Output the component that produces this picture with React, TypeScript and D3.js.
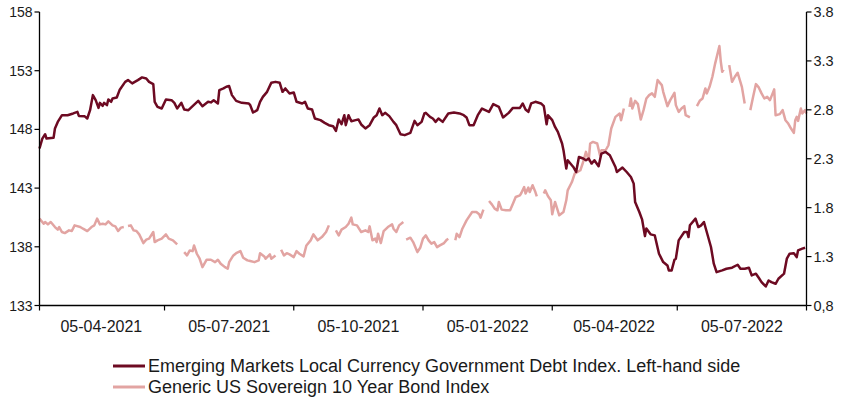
import React from "react";
import * as d3 from "d3";

// Emerging Markets Local Currency Government Debt Index (left axis)
const emSeries: [string, number][] = [
  ["2021-02-20", 146.37], ["2021-02-22", 147.22], ["2021-02-24", 147.59], ["2021-02-25", 147.22],
  ["2021-03-02", 147.28], ["2021-03-03", 148.08], ["2021-03-05", 148.64], ["2021-03-08", 149.21],
  ["2021-03-12", 149.21], ["2021-03-16", 149.36], ["2021-03-19", 149.49], ["2021-03-20", 149.15],
  ["2021-03-24", 149.13], ["2021-03-26", 148.93], ["2021-03-28", 149.64], ["2021-03-30", 150.92],
  ["2021-04-01", 150.49], ["2021-04-03", 149.83], ["2021-04-04", 150.26], ["2021-04-06", 150.01],
  ["2021-04-07", 150.26], ["2021-04-09", 150.07], ["2021-04-10", 150.55], ["2021-04-12", 150.35],
  ["2021-04-13", 150.64], ["2021-04-16", 150.72], ["2021-04-18", 151.35], ["2021-04-22", 152.05],
  ["2021-04-24", 152.2], ["2021-04-27", 151.92], ["2021-05-01", 152.2], ["2021-05-04", 152.43],
  ["2021-05-07", 152.34], ["2021-05-09", 152.05], ["2021-05-12", 151.86], ["2021-05-13", 150.35],
  ["2021-05-15", 149.92], ["2021-05-18", 149.78], ["2021-05-21", 150.55], ["2021-05-25", 150.49],
  ["2021-05-27", 150.26], ["2021-05-29", 149.78], ["2021-06-01", 150.26], ["2021-06-03", 149.7],
  ["2021-06-06", 149.64], ["2021-06-09", 149.98], ["2021-06-13", 150.43], ["2021-06-16", 149.98],
  ["2021-06-20", 150.35], ["2021-06-22", 150.3], ["2021-06-24", 150.49], ["2021-06-27", 150.21],
  ["2021-06-28", 151.35], ["2021-07-01", 151.49], ["2021-07-03", 151.63], ["2021-07-05", 151.69],
  ["2021-07-07", 150.92], ["2021-07-10", 150.43], ["2021-07-14", 150.26], ["2021-07-19", 150.21],
  ["2021-07-20", 150.07], ["2021-07-22", 149.44], ["2021-07-25", 149.64], ["2021-07-27", 150.35],
  ["2021-07-29", 150.77], ["2021-08-01", 151.2], ["2021-08-04", 151.97], ["2021-08-07", 152.05],
  ["2021-08-10", 151.97], ["2021-08-12", 151.2], ["2021-08-14", 151.49], ["2021-08-17", 151.06],
  ["2021-08-20", 151.15], ["2021-08-22", 150.35], ["2021-08-26", 150.21], ["2021-08-28", 150.35],
  ["2021-08-30", 149.78], ["2021-09-02", 149.7], ["2021-09-04", 148.93], ["2021-09-08", 148.79],
  ["2021-09-11", 148.56], ["2021-09-14", 148.36], ["2021-09-17", 148.27], ["2021-09-19", 147.87],
  ["2021-09-21", 148.85], ["2021-09-23", 148.44], ["2021-09-25", 149.21], ["2021-09-26", 148.36],
  ["2021-09-28", 149.21], ["2021-09-30", 148.7], ["2021-10-03", 148.79], ["2021-10-05", 148.85],
  ["2021-10-07", 148.42], ["2021-10-10", 148.08], ["2021-10-13", 148.36], ["2021-10-16", 149.02],
  ["2021-10-18", 149.21], ["2021-10-20", 149.78], ["2021-10-22", 149.21], ["2021-10-24", 149.41],
  ["2021-10-27", 149.13], ["2021-10-30", 148.64], ["2021-11-01", 148.36], ["2021-11-04", 147.59],
  ["2021-11-07", 147.51], ["2021-11-11", 147.7], ["2021-11-14", 148.73], ["2021-11-16", 148.36],
  ["2021-11-19", 148.64], ["2021-11-21", 149.36], ["2021-11-22", 149.41], ["2021-11-25", 149.07],
  ["2021-11-27", 148.93], ["2021-11-29", 148.64], ["2021-12-01", 148.93], ["2021-12-04", 148.64],
  ["2021-12-08", 149.36], ["2021-12-12", 149.44], ["2021-12-16", 149.36], ["2021-12-19", 149.21],
  ["2021-12-21", 149.02], ["2021-12-23", 148.36], ["2021-12-26", 148.36], ["2021-12-29", 149.21],
  ["2022-01-01", 149.78], ["2022-01-06", 149.49], ["2022-01-09", 150.15], ["2022-01-13", 149.92],
  ["2022-01-16", 149.02], ["2022-01-20", 149.41], ["2022-01-23", 149.83], ["2022-01-28", 149.83],
  ["2022-01-30", 150.21], ["2022-02-01", 149.7], ["2022-02-03", 149.49], ["2022-02-05", 150.21],
  ["2022-02-08", 150.35], ["2022-02-12", 150.21], ["2022-02-14", 149.98], ["2022-02-16", 148.44],
  ["2022-02-17", 149.21], ["2022-02-20", 148.79], ["2022-02-22", 148.21], ["2022-02-24", 147.79],
  ["2022-02-27", 146.8], ["2022-02-28", 146.23], ["2022-03-02", 144.66], ["2022-03-03", 145.37],
  ["2022-03-07", 144.8], ["2022-03-09", 144.37], ["2022-03-11", 145.65], ["2022-03-14", 145.52],
  ["2022-03-16", 145.37], ["2022-03-18", 145.52], ["2022-03-20", 145.09], ["2022-03-22", 145.37],
  ["2022-03-25", 144.86], ["2022-03-27", 145.94], ["2022-03-30", 146.08], ["2022-04-02", 145.8],
  ["2022-04-06", 144.8], ["2022-04-07", 144.37], ["2022-04-11", 144.75], ["2022-04-14", 144.37],
  ["2022-04-17", 143.95], ["2022-04-19", 143.38], ["2022-04-20", 141.81], ["2022-04-23", 140.96],
  ["2022-04-25", 140.31], ["2022-04-27", 138.91], ["2022-04-28", 139.55], ["2022-05-01", 139.06],
  ["2022-05-04", 138.97], ["2022-05-07", 137.41], ["2022-05-10", 136.7], ["2022-05-13", 136.41],
  ["2022-05-14", 135.99], ["2022-05-16", 135.99], ["2022-05-18", 136.9], ["2022-05-19", 136.99],
  ["2022-05-21", 138.55], ["2022-05-25", 139.26], ["2022-05-27", 139.26], ["2022-05-28", 138.83],
  ["2022-05-29", 139.83], ["2022-06-02", 140.4], ["2022-06-04", 139.68], ["2022-06-06", 139.83],
  ["2022-06-08", 140.11], ["2022-06-10", 139.26], ["2022-06-13", 137.98], ["2022-06-15", 136.56],
  ["2022-06-17", 135.84], ["2022-06-21", 135.99], ["2022-06-24", 136.13], ["2022-06-28", 136.22],
  ["2022-07-02", 136.47], ["2022-07-04", 136.13], ["2022-07-07", 136.13], ["2022-07-10", 136.22],
  ["2022-07-12", 135.56], ["2022-07-15", 135.71], ["2022-07-17", 135.36], ["2022-07-19", 134.99],
  ["2022-07-22", 134.62], ["2022-07-24", 135.13], ["2022-07-26", 134.99], ["2022-07-29", 134.85],
  ["2022-07-31", 135.28], ["2022-08-04", 135.71], ["2022-08-06", 136.99], ["2022-08-08", 137.41],
  ["2022-08-11", 137.46], ["2022-08-13", 137.12], ["2022-08-14", 137.69], ["2022-08-17", 137.84],
  ["2022-08-19", 137.92],
];

// Generic US Sovereign 10 Year Bond Index (right axis); null = gap in the line
const usSeries: [string, number | null][] = [
  ["2021-02-20", 1.688], ["2021-02-23", 1.636], ["2021-02-24", 1.653], ["2021-02-26", 1.629],
  ["2021-02-28", 1.653], ["2021-03-03", 1.602], ["2021-03-05", 1.575], ["2021-03-06", 1.602],
  ["2021-03-08", 1.551], ["2021-03-10", 1.54], ["2021-03-13", 1.568], ["2021-03-15", 1.561],
  ["2021-03-17", 1.619], ["2021-03-21", 1.602], ["2021-03-23", 1.585], ["2021-03-26", 1.561],
  ["2021-03-29", 1.602], ["2021-03-31", 1.619], ["2021-04-02", 1.688], ["2021-04-04", 1.629],
  ["2021-04-06", 1.636], ["2021-04-08", 1.629], ["2021-04-10", 1.66], ["2021-04-13", 1.619],
  ["2021-04-15", 1.609], ["2021-04-17", 1.561], ["2021-04-19", 1.596], ["2021-04-21", 1.602],
  ["2021-04-23", null],
  ["2021-04-24", 1.612], ["2021-04-26", 1.619], ["2021-04-28", 1.568], ["2021-04-30", 1.561],
  ["2021-05-02", 1.527], ["2021-05-05", 1.438], ["2021-05-07", 1.473], ["2021-05-09", 1.483],
  ["2021-05-12", 1.551], ["2021-05-13", 1.448], ["2021-05-15", 1.466], ["2021-05-18", 1.483],
  ["2021-05-21", 1.527], ["2021-05-23", 1.483], ["2021-05-26", 1.466], ["2021-05-29", 1.425],
  ["2021-06-01", null],
  ["2021-06-03", 1.346], ["2021-06-05", 1.312], ["2021-06-07", 1.363], ["2021-06-09", 1.356],
  ["2021-06-10", 1.414], ["2021-06-12", 1.329], ["2021-06-14", 1.278], ["2021-06-16", 1.192],
  ["2021-06-19", 1.268], ["2021-06-22", 1.268], ["2021-06-25", 1.243], ["2021-06-27", 1.268],
  ["2021-06-29", 1.227], ["2021-07-02", 1.192], ["2021-07-04", 1.176], ["2021-07-05", 1.243],
  ["2021-07-08", 1.312], ["2021-07-10", 1.335], ["2021-07-13", 1.356], ["2021-07-15", 1.288],
  ["2021-07-18", 1.261], ["2021-07-20", 1.254], ["2021-07-23", 1.243], ["2021-07-26", 1.261],
  ["2021-07-27", 1.335], ["2021-07-30", 1.302], ["2021-07-31", 1.278], ["2021-08-03", 1.322],
  ["2021-08-04", 1.278], ["2021-08-07", 1.312],
  ["2021-08-10", null],
  ["2021-08-11", 1.37], ["2021-08-13", 1.312], ["2021-08-15", 1.335], ["2021-08-17", 1.322],
  ["2021-08-20", 1.295], ["2021-08-22", 1.356], ["2021-08-24", 1.329], ["2021-08-27", 1.302],
  ["2021-08-29", 1.414], ["2021-09-01", 1.466], ["2021-09-03", 1.527], ["2021-09-06", 1.466],
  ["2021-09-09", 1.499], ["2021-09-12", 1.551], ["2021-09-14", 1.619],
  ["2021-09-17", null],
  ["2021-09-19", 1.568], ["2021-09-21", 1.517], ["2021-09-23", 1.575], ["2021-09-26", 1.602],
  ["2021-09-28", 1.636], ["2021-09-30", 1.698], ["2021-10-01", 1.629], ["2021-10-04", 1.619],
  ["2021-10-07", 1.551], ["2021-10-10", 1.568], ["2021-10-12", 1.551], ["2021-10-13", 1.609],
  ["2021-10-15", 1.466], ["2021-10-17", 1.483], ["2021-10-18", 1.448], ["2021-10-19", 1.534],
  ["2021-10-21", 1.438], ["2021-10-23", 1.561], ["2021-10-26", 1.602], ["2021-10-29", 1.629],
  ["2021-10-30", 1.585], ["2021-11-01", 1.551], ["2021-11-03", 1.619], ["2021-11-06", 1.653],
  ["2021-11-07", null],
  ["2021-11-08", 1.473], ["2021-11-11", 1.493], ["2021-11-13", 1.448], ["2021-11-16", 1.346],
  ["2021-11-18", 1.39], ["2021-11-20", 1.483], ["2021-11-22", 1.517], ["2021-11-24", 1.466],
  ["2021-11-26", 1.432], ["2021-11-28", 1.448], ["2021-11-30", 1.397], ["2021-12-02", 1.414],
  ["2021-12-05", 1.438], ["2021-12-07", 1.473], ["2021-12-08", 1.483],
  ["2021-12-10", null],
  ["2021-12-13", 1.466], ["2021-12-14", 1.534], ["2021-12-16", 1.499], ["2021-12-18", 1.585],
  ["2021-12-21", 1.67], ["2021-12-25", 1.755], ["2021-12-28", 1.755], ["2021-12-30", 1.732],
  ["2021-12-31", 1.698], ["2022-01-02", 1.78],
  ["2022-01-04", null],
  ["2022-01-06", 1.868], ["2022-01-08", 1.834], ["2022-01-10", 1.79], ["2022-01-12", 1.773],
  ["2022-01-13", 1.858], ["2022-01-15", 1.78], ["2022-01-18", 1.773], ["2022-01-21", 1.773],
  ["2022-01-23", 1.841], ["2022-01-25", 1.909], ["2022-01-28", 1.926], ["2022-01-29", 1.95],
  ["2022-01-31", 2.011], ["2022-02-01", 1.944], ["2022-02-03", 2.005], ["2022-02-04", 1.96],
  ["2022-02-06", 2.029], ["2022-02-08", 1.96], ["2022-02-09", 1.916],
  ["2022-02-12", null],
  ["2022-02-14", 1.944], ["2022-02-15", 1.977], ["2022-02-17", 1.916], ["2022-02-19", 1.875],
  ["2022-02-20", 1.732], ["2022-02-22", 1.858], ["2022-02-25", 1.722], ["2022-02-28", 1.755],
  ["2022-03-02", 1.875], ["2022-03-03", 1.977], ["2022-03-06", 2.062], ["2022-03-08", 2.148],
  ["2022-03-12", 2.182], ["2022-03-14", 2.267], ["2022-03-16", 2.37], ["2022-03-18", 2.285],
  ["2022-03-19", 2.456], ["2022-03-21", 2.472], ["2022-03-24", 2.456], ["2022-03-26", 2.336],
  ["2022-03-27", 2.387], ["2022-03-30", 2.387], ["2022-04-01", 2.438], ["2022-04-03", 2.609],
  ["2022-04-06", 2.728], ["2022-04-09", 2.763], ["2022-04-10", 2.694], ["2022-04-12", 2.814],
  ["2022-04-14", null],
  ["2022-04-16", 2.83], ["2022-04-17", 2.916], ["2022-04-18", 2.814], ["2022-04-20", 2.892],
  ["2022-04-22", 2.858], ["2022-04-24", 2.701], ["2022-04-26", 2.797], ["2022-04-28", 2.916],
  ["2022-04-30", 2.95], ["2022-05-02", 2.968], ["2022-05-04", 2.933], ["2022-05-06", 3.104],
  ["2022-05-09", 3.053], ["2022-05-10", 2.984], ["2022-05-13", 2.838], ["2022-05-15", 2.899],
  ["2022-05-18", 2.974], ["2022-05-19", 2.848], ["2022-05-21", 2.779], ["2022-05-23", 2.814],
  ["2022-05-25", 2.838], ["2022-05-26", 2.745], ["2022-05-29", 2.722],
  ["2022-06-01", null],
  ["2022-06-03", 2.838], ["2022-06-05", 2.892], ["2022-06-07", 2.916], ["2022-06-09", 3.019],
  ["2022-06-10", 2.968], ["2022-06-12", 3.035], ["2022-06-14", 3.138], ["2022-06-16", 3.275],
  ["2022-06-19", 3.452], ["2022-06-20", 3.291], ["2022-06-21", 3.189], ["2022-06-22", 3.213],
  ["2022-06-24", null],
  ["2022-06-26", 3.257], ["2022-06-28", 3.086], ["2022-06-30", 3.138], ["2022-07-02", 3.178],
  ["2022-07-05", 3.035], ["2022-07-07", 2.865],
  ["2022-07-09", null],
  ["2022-07-11", 2.797], ["2022-07-13", 2.933], ["2022-07-15", 3.063], ["2022-07-17", 3.029],
  ["2022-07-19", 2.968], ["2022-07-21", 2.916], ["2022-07-23", 2.933], ["2022-07-25", 2.899],
  ["2022-07-28", 3.009], ["2022-07-29", 2.745], ["2022-08-01", 2.756], ["2022-08-03", 2.797],
  ["2022-08-05", 2.694], ["2022-08-07", 2.66], ["2022-08-09", 2.609], ["2022-08-11", 2.564],
  ["2022-08-12", 2.694], ["2022-08-13", 2.728], ["2022-08-14", 2.687], ["2022-08-16", 2.814],
  ["2022-08-17", 2.763], ["2022-08-19", 2.797], ["2022-08-20", 2.763],
];

const leftTicks = [133, 138, 143, 148, 153, 158];
const rightTicks = [0.8, 1.3, 1.8, 2.3, 2.8, 3.3, 3.8];
const rightTickLabels = ["0,8", "1.3", "1.8", "2.3", "2.8", "3.3", "3.8"];
const xTickDates = ["2021-02-20", "2021-05-20", "2021-08-20", "2021-11-20", "2022-02-20", "2022-05-20", "2022-08-20"];
const xLabelDates = ["2021-04-05", "2021-07-05", "2021-10-05", "2022-01-05", "2022-04-05", "2022-07-05"];
const xLabels = ["05-04-2021", "05-07-2021", "05-10-2021", "05-01-2022", "05-04-2022", "05-07-2022"];
const legendLabels = [
  "Emerging Markets Local Currency Government Debt Index. Left-hand side",
  "Generic US Sovereign 10 Year Bond Index",
];

const W = 846;
const H = 402;
const LEFT = 39.5;
const RIGHT = 806.5;
const TOP = 12;
const BOTTOM = 305.5;
const DARK = "#6d0a22";
const PINK = "#e2a4a2";
const FONT = "'Liberation Sans', Arial, sans-serif";

const parse = d3.timeParse("%Y-%m-%d");

export default function App() {
  const x = d3
    .scaleTime()
    .domain([parse("2021-02-20")!, parse("2022-08-20")!])
    .range([LEFT, RIGHT]);
  const yL = d3.scaleLinear().domain([133, 158]).range([BOTTOM, TOP]);
  const yR = d3.scaleLinear().domain([0.8, 3.8]).range([BOTTOM, TOP]);

  const emLine = d3
    .line<[string, number]>()
    .x((d) => x(parse(d[0])!))
    .y((d) => yL(d[1]));
  const usLine = d3
    .line<[string, number | null]>()
    .defined((d) => d[1] !== null)
    .x((d) => x(parse(d[0])!))
    .y((d) => yR(d[1] as number));

  return (
    <svg
      width={W}
      height={H}
      style={{ position: "absolute", left: 0, top: 0, background: "#fff" }}
      fontFamily={FONT}
    >
      <rect x={0} y={0} width={W} height={H} fill="#fff" />
      {/* series */}
      <path d={usLine(usSeries) || ""} fill="none" stroke={PINK} strokeWidth={2.5} strokeLinejoin="round" />
      <path d={emLine(emSeries) || ""} fill="none" stroke={DARK} strokeWidth={2.5} strokeLinejoin="round" />

      {/* left axis */}
      <line x1={LEFT} x2={LEFT} y1={TOP} y2={BOTTOM} stroke="#000" strokeWidth={1.3} />
      {leftTicks.map((t) => (
        <g key={"l" + t}>
          <line x1={LEFT - 5} x2={LEFT} y1={yL(t)} y2={yL(t)} stroke="#000" strokeWidth={1.2} />
          <text x={LEFT - 7} y={yL(t)} dy="0.36em" textAnchor="end" fontSize={14} fill="#1a1a1a">
            {t}
          </text>
        </g>
      ))}

      {/* right axis */}
      <line x1={RIGHT} x2={RIGHT} y1={TOP} y2={BOTTOM} stroke="#000" strokeWidth={1.3} />
      {rightTicks.map((t, i) => (
        <g key={"r" + t}>
          <line x1={RIGHT} x2={RIGHT + 5} y1={yR(t)} y2={yR(t)} stroke="#000" strokeWidth={1.2} />
          <text x={RIGHT + 7} y={yR(t)} dy="0.36em" textAnchor="start" fontSize={14.5} fill="#1a1a1a">
            {rightTickLabels[i]}
          </text>
        </g>
      ))}

      {/* bottom axis */}
      <line x1={LEFT} x2={RIGHT} y1={BOTTOM} y2={BOTTOM} stroke="#000" strokeWidth={1.3} />
      {xTickDates.map((d) => (
        <line
          key={"t" + d}
          x1={x(parse(d)!)}
          x2={x(parse(d)!)}
          y1={BOTTOM}
          y2={BOTTOM + 5}
          stroke="#000"
          strokeWidth={1.2}
        />
      ))}
      {xLabelDates.map((d, i) => (
        <text key={"x" + d} x={x(parse(d)!)} y={332} textAnchor="middle" fontSize={16} fill="#1a1a1a">
          {xLabels[i]}
        </text>
      ))}

      {/* legend */}
      {legendLabels.map((label, i) => (
        <g key={label} transform={`translate(0, ${366 + i * 21})`}>
          <line x1={113} x2={145} y1={0} y2={0} stroke={i === 0 ? DARK : PINK} strokeWidth={3} />
          <text x={148} y={0} dy="0.36em" fontSize={18} fill="#1a1a1a">
            {label}
          </text>
        </g>
      ))}
    </svg>
  );
}
